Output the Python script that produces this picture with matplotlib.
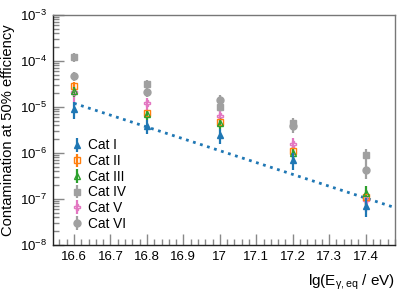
import numpy as np
import matplotlib
matplotlib.use("Agg")
import matplotlib.pyplot as plt
from matplotlib.ticker import LogLocator, MultipleLocator, NullFormatter

plt.rcParams['font.family'] = ['Liberation Sans', 'DejaVu Sans']
plt.rcParams['mathtext.fontset'] = 'custom'
plt.rcParams['mathtext.rm'] = 'Liberation Sans'
plt.rcParams['mathtext.it'] = 'Liberation Sans:italic'
plt.rcParams['mathtext.default'] = 'regular'

# energy bins, lg(E/eV)
energy = [16.6, 16.8, 17.0, 17.2, 17.4]

categories = ["Cat I", "Cat II", "Cat III", "Cat IV", "Cat V", "Cat VI"]

# contamination at 50% efficiency
cat1 = [9.0e-6, 3.9e-6, 2.4e-6, 7.0e-7, 7.2e-8]
cat2 = [2.9e-5, 7.3e-6, 4.6e-6, 1.1e-6, 1.1e-7]
cat3 = [2.2e-5, 7.0e-6, 4.5e-6, 1.0e-6, 1.35e-7]
cat4 = [1.22e-4, 3.1e-5, 1.02e-5, 4.4e-6, 9.0e-7]
cat5 = [2.1e-5, 1.2e-5, 6.5e-6, 1.6e-6, 9.5e-8]
cat6 = [4.7e-5, 2.1e-5, 1.45e-5, 3.8e-6, 4.2e-7]

# relative statistical errors
err1 = [0.40, 0.35, 0.35, 0.40, 0.45]
err2 = [0.20, 0.20, 0.20, 0.25, 0.40]
err3 = [0.25, 0.25, 0.25, 0.35, 0.45]
err4 = [0.22, 0.22, 0.25, 0.30, 0.35]
err5 = [0.40, 0.30, 0.30, 0.35, 0.45]
err6 = [0.22, 0.22, 0.25, 0.30, 0.35]

# power-law fit for Cat I (endpoints of the fitted line)
fit_x = [16.6, 17.48]
fit_y = [1.2e-5, 6.5e-8]

values = [cat1, cat2, cat3, cat4, cat5, cat6]
errors = [err1, err2, err3, err4, err5, err6]
colors = ["#1f77b4", "#ff7f0e", "#2ca02c", "#a0a0a0", "#e377c2", "#a0a0a0"]
markers = ["^", "s", "^", "s", "P", "o"]
filled = [True, False, False, True, False, True]

fig = plt.figure(figsize=(4.13, 2.92), dpi=100)
ax = fig.add_axes([0.128, 0.161, 0.828, 0.788])

x = np.array(energy)
order = [3, 5, 4, 1, 2, 0]
handles = {}
for i in order:
    v = np.array(values[i])
    e = v * np.array(errors[i])
    h = ax.errorbar(x, v, yerr=e, fmt=markers[i], color=colors[i], ms=5,
                    mfc=colors[i] if filled[i] else 'none', mew=1.0,
                    elinewidth=1.6, capsize=0, label=categories[i], zorder=3 + (i == 0))
    handles[i] = h

ax.plot(fit_x, fit_y, ls=':', color="#1f77b4", lw=2.0, zorder=2)

ax.set_yscale('log')
ax.set_xlim(16.542, 17.48)
ax.set_ylim(1e-8, 1e-3)
ax.xaxis.set_major_locator(MultipleLocator(0.1))
ax.xaxis.set_minor_locator(MultipleLocator(0.02))
ax.xaxis.set_major_formatter(plt.FuncFormatter(lambda v, p: f"{v:g}"))
ax.yaxis.set_major_locator(LogLocator(base=10, numticks=10))
ax.yaxis.set_minor_locator(LogLocator(base=10, subs=np.arange(2, 10), numticks=10))
ax.yaxis.set_minor_formatter(NullFormatter())

ax.tick_params(which='both', direction='in', top=False, right=False,
               color='#888888', labelsize=9.5, width=1.0)
ax.tick_params(which='major', length=8, pad=4)
ax.tick_params(which='minor', length=4)
for s in ax.spines.values():
    s.set_color('#777777')
    s.set_linewidth(1.0)
ax.spines['left'].set_color('#222222')
ax.spines['bottom'].set_color('#222222')

ax.set_ylabel("Contamination at 50% efficiency", fontsize=10.6, labelpad=4)
ax.set_xlabel(r"lg(E$_{\gamma,\mathrm{eq}}$ / eV)", fontsize=11, loc='right', labelpad=7)

ax.legend([handles[i] for i in range(6)], categories, loc='lower left',
          bbox_to_anchor=(0.02, 0.015), frameon=False, fontsize=9.8,
          handlelength=1.0, handletextpad=0.3, labelspacing=0.12, borderpad=0.3)

fig.savefig("out.png", dpi=100)
